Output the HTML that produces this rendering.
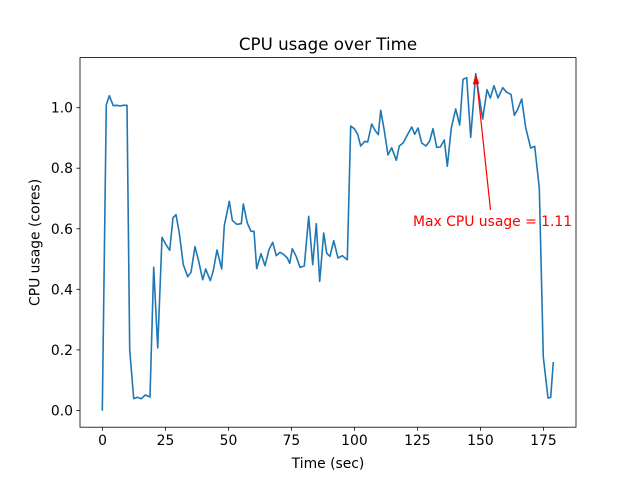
<!DOCTYPE html>
<html><head><style>body{margin:0;background:#fff}svg text{font-family:"DejaVu Sans","Liberation Sans",sans-serif}</style></head><body>
<svg width="640" height="480" viewBox="0 0 640 480" xmlns="http://www.w3.org/2000/svg">
<rect width="640" height="480" fill="#fff"/>
<text x="328" y="50" font-size="16.7" text-anchor="middle">CPU usage over Time</text>
<polyline fill="none" stroke="#1f77b4" stroke-width="1.6" stroke-linejoin="round" points="102.3,410.7 106.3,104.7 109.3,95.7 113.3,105.7 116.7,105.3 120,106 123.3,105.3 127,105.3 129.7,349.7 133.7,398.7 137.3,397.3 141.3,398.7 145.3,395 150,397 153.7,267.3 157.7,348 162,237.3 166,244.7 169.7,250.3 173,217.7 176,214.7 179.3,233 183.3,264.7 187.7,276.7 191,272.3 195,246.7 198.7,261.3 202.7,279.7 205.7,269 210.3,280.7 213.3,270.7 217,250 221.7,269 224.3,225.7 229.3,201.3 232.3,220.3 236.7,224.3 241.3,223.7 243.3,204 247.3,223 251,231.3 254,231.3 256.7,268.7 261,253.7 265,265.7 269,249.7 272.7,242.3 276.3,255.7 280,252.3 284,254.7 287.3,258 289.7,263.3 292.3,248.7 296.3,256.7 300,267.3 304.3,266 308.7,216.3 312.7,264.7 316.3,223.7 319.7,281.3 323.7,233 326.7,253.3 330,256.3 333.7,240.7 338,258 342.3,255.7 347.3,259.7 350.7,126 354.3,128.7 357.7,134.3 360.7,146 364.7,141.3 367.7,142 371.7,124 375.3,130.7 378.3,134.7 380.7,110.3 384.3,130.7 388,155 391.7,147.7 396.3,160.3 399.3,146 403.3,142.7 407.3,135 411.7,127 414.7,134.3 418,128 421.7,143 426,146 429.7,141 433,128.7 436.7,147.3 440.3,147 444.3,140 447.3,166.3 451.3,128 455.7,109 459.7,125 463,79.3 466.7,77.7 470.7,137.3 475.7,73.7 479,95.3 482.7,119 487,89.7 490.3,98 494,85.7 498,98 502.7,87.7 506.7,92.3 511,94.3 514.3,115.3 517.7,109.3 521.7,99 525.7,127.7 530.7,148 534.7,146.3 539.3,188 543.3,357 548,398 550.7,397.3 553.3,362"/>
<line x1="490.5" y1="210" x2="476.3" y2="77" stroke="#f00" stroke-width="1.2"/>
<polygon points="475.7,73.7 472.8,84.5 479.3,83.8" fill="#f00"/>
<text x="413" y="226" font-size="13.9" fill="#f00">Max CPU usage = 1.11</text>
<rect x="80" y="57.6" width="496" height="369.6" fill="none" stroke="#000" stroke-width="0.8"/>
<g stroke="#000" stroke-width="0.8">
<line x1="102.5" y1="427.2" x2="102.5" y2="430.7"/><line x1="165.5" y1="427.2" x2="165.5" y2="430.7"/><line x1="228.5" y1="427.2" x2="228.5" y2="430.7"/><line x1="291.4" y1="427.2" x2="291.4" y2="430.7"/><line x1="354.4" y1="427.2" x2="354.4" y2="430.7"/><line x1="417.4" y1="427.2" x2="417.4" y2="430.7"/><line x1="480.4" y1="427.2" x2="480.4" y2="430.7"/><line x1="543.4" y1="427.2" x2="543.4" y2="430.7"/>
<line x1="76.5" y1="410.4" x2="80" y2="410.4"/><line x1="76.5" y1="349.9" x2="80" y2="349.9"/><line x1="76.5" y1="289.3" x2="80" y2="289.3"/><line x1="76.5" y1="228.8" x2="80" y2="228.8"/><line x1="76.5" y1="168.2" x2="80" y2="168.2"/><line x1="76.5" y1="107.7" x2="80" y2="107.7"/>
</g>
<g font-size="13.9" text-anchor="middle">
<text x="102.5" y="445">0</text><text x="165.5" y="445">25</text><text x="228.5" y="445">50</text><text x="291.4" y="445">75</text><text x="354.4" y="445">100</text><text x="417.4" y="445">125</text><text x="480.4" y="445">150</text><text x="543.4" y="445">175</text>
<text x="328" y="468">Time (sec)</text>
</g>
<g font-size="13.9" text-anchor="end">
<text x="73" y="415.4">0.0</text><text x="73" y="354.9">0.2</text><text x="73" y="294.3">0.4</text><text x="73" y="233.8">0.6</text><text x="73" y="173.2">0.8</text><text x="73" y="112.7">1.0</text>
</g>
<text transform="translate(39.5,242.4) rotate(-90)" font-size="13.9" text-anchor="middle">CPU usage (cores)</text>
</svg>
</body></html>
